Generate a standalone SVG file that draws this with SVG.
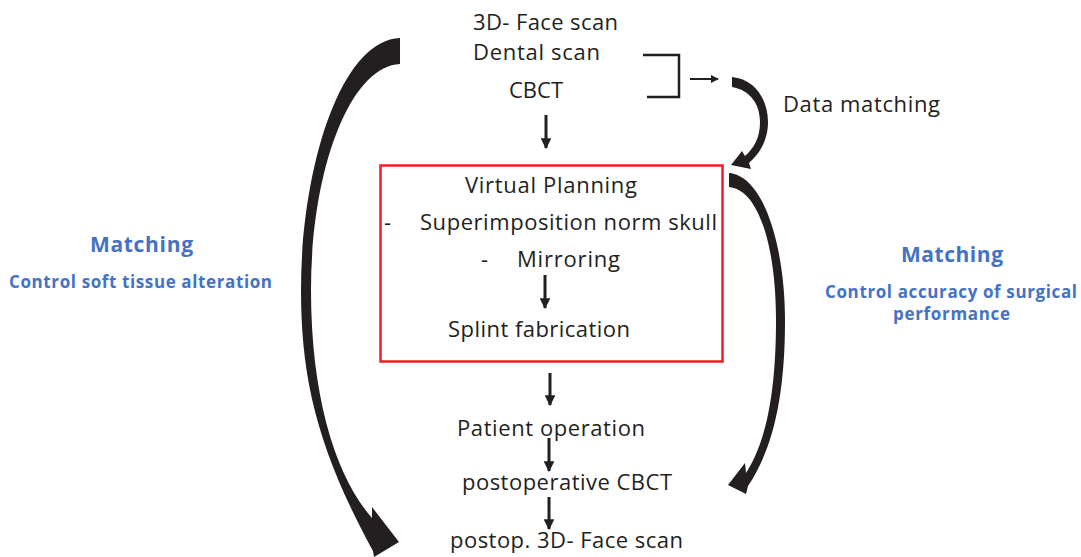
<svg xmlns="http://www.w3.org/2000/svg" width="1081" height="557" viewBox="0 0 1081 557">
<defs>
<style>
.t{font-family:"Open Sans","Liberation Sans",sans-serif;font-size:22px;fill:#231f20}
.b1{font-family:"Open Sans","Liberation Sans",sans-serif;font-weight:bold;font-size:21px;fill:#4472c4}
.b2{font-family:"Open Sans","Liberation Sans",sans-serif;font-weight:bold;font-size:17px;fill:#4472c4}
.ln{stroke:#231f20;stroke-width:2.5;fill:none}
.ar{stroke:#231f20;stroke-width:3;fill:none;marker-end:url(#ah)}
.sa{stroke:#231f20;stroke-width:2;fill:none;marker-end:url(#ahs)}
.big{fill:#231f20;stroke:none}
</style>
<marker id="ah" viewBox="0 0 10 10" refX="9" refY="5" markerWidth="3.6" markerHeight="3.6" orient="auto" markerUnits="strokeWidth">
<path d="M0,0 L10,5 L0,10 Z" fill="#231f20"/>
</marker>
<marker id="ahs" viewBox="0 0 10 10" refX="9" refY="5" markerWidth="4" markerHeight="4" orient="auto" markerUnits="strokeWidth">
<path d="M0,0 L10,5 L0,10 Z" fill="#231f20"/>
</marker>
</defs>
<rect width="1081" height="557" fill="#ffffff"/>

<g id="inputs">
<text class="t" x="473" y="30" textLength="145">3D- Face scan</text>
<text class="t" x="473" y="60" textLength="127">Dental scan</text>
<text class="t" x="509" y="98" textLength="54">CBCT</text>
</g>

<g id="planning">
<rect x="380.5" y="165.5" width="342" height="196" fill="none" stroke="#ee1c25" stroke-width="2.5"/>
<text class="t" x="465" y="193" textLength="172">Virtual Planning</text>
<text class="t" x="384" y="230">-</text>
<text class="t" x="420" y="230" textLength="297">Superimposition norm skull</text>
<text class="t" x="481" y="267">-</text>
<text class="t" x="517" y="267" textLength="103">Mirroring</text>
<text class="t" x="448" y="337" textLength="182">Splint fabrication</text>
</g>

<g id="operation">
<text class="t" x="457" y="436" textLength="188">Patient operation</text>
</g>
<g id="postct">
<text class="t" x="462" y="490" textLength="210">postoperative CBCT</text>
</g>
<g id="postscan">
<text class="t" x="450" y="548" textLength="233">postop. 3D- Face scan</text>
</g>

<g id="datamatching">
<text class="t" x="783" y="112" textLength="157">Data matching</text>
</g>

<g id="matching-left">
<text class="b1" x="90" y="252" textLength="103">Matching</text>
<text class="b2" x="9" y="288" textLength="263">Control soft tissue alteration</text>
</g>

<g id="matching-right">
<text class="b1" x="901" y="262" textLength="102">Matching</text>
<text class="b2" x="825" y="298" textLength="252">Control accuracy of surgical</text>
<text class="b2" x="893" y="320" textLength="117">performance</text>
</g>

<g id="connectors">
<path class="ln" d="M643,55 H679 V97 H647"/>
<line class="sa" x1="690" y1="79" x2="718" y2="79"/>
<line class="ar" x1="546" y1="115" x2="546" y2="148"/>
<line class="ar" x1="545" y1="275" x2="545" y2="308"/>
<line class="ar" x1="550" y1="373" x2="550" y2="405"/>
<line class="ar" x1="549" y1="438" x2="549" y2="471"/>
<line class="ar" x1="549" y1="497" x2="549" y2="529"/>
<path class="big" d="M400,38 C340,40 301,170 301,290 C301,380 318,450 373,551 L374,557 L399,542 L372,507 L372,518 C337,478 311,400 311,290 C311,170 350,66 400,64 Z"/>
<path class="big" d="M732,77 C755,79 768,100 768,122 C768,142 758,155 749,163 L751,169 L731,165 L742,151 L745,156 C754,148 760,138 760,122 C760,104 750,90 732,87 Z"/>
<path class="big" d="M729,173 C765,176 785,250 785,320 C785,400 772,450 748,486 L746,494 L728,485 L745,463 L746,473 C764,445 776,400 776,320 C776,250 760,190 729,187 Z"/>
</g>
</svg>
